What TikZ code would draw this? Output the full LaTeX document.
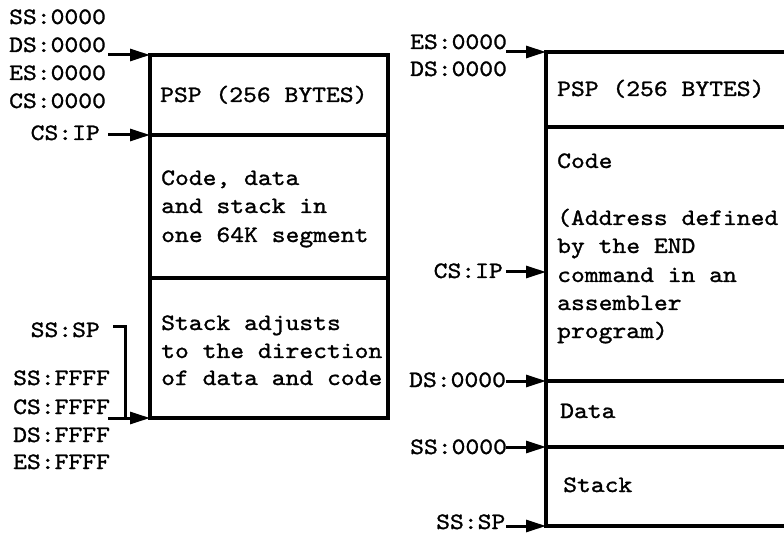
\documentclass[tikz,border=0pt]{standalone}
\usepackage{fontspec}
\setmonofont{lmmono10-regular.otf}[FakeStretch=1.12,FakeBold=1.2]
\usetikzlibrary{arrows.meta}
\tikzset{
  lbl/.style={inner sep=0pt, font=\ttfamily\fontsize{23.5}{28}\selectfont},
  lw/.style={lbl, anchor=base west},
  le/.style={lbl, anchor=base east},
  boxline/.style={line width=3.4pt},
  arr/.style={line width=3pt, -{Triangle[length=20pt,width=12pt]}},
  plain/.style={line width=3pt}
}
\begin{document}
\begin{tikzpicture}[x=1pt,y=-1pt]
\useasboundingbox (0,0) rectangle (784,534);
% ---------- left box ----------
\coordinate (LTL) at (150,55);
\coordinate (LTR) at (388,55);
\coordinate (LBL) at (150,418);
\coordinate (LBR) at (388,418);
\coordinate (L1L) at (150,135);
\coordinate (L1R) at (388,135);
\coordinate (L2L) at (150,278);
\coordinate (L2R) at (388,278);
\draw[boxline] (LTL) -- (LTR) -- (LBR) -- (LBL) -- cycle;
\draw[boxline] (L1L) -- (L1R);
\draw[boxline] (L2L) -- (L2R);
% left labels
\node[lw] (ss0) at (9,24) {SS:0000};
\node[lw] (ds0) at (9,52) {DS:0000};
\node[lw] (es0) at (9,80) {ES:0000};
\node[lw] (cs0) at (9,108) {CS:0000};
\node[le] (csip) at (100,140) {CS:IP};
\node[le] (sssp) at (100,337) {SS:SP};
\node[lw] (ssf) at (13,385) {SS:FFFF};
\node[lw] (csf) at (13,414) {CS:FFFF};
\node[lw] (dsf) at (13,442) {DS:FFFF};
\node[lw] (esf) at (13,469) {ES:FFFF};
% left box texts
\node[lw] (lpsp) at (160,102) {PSP (256 BYTES)};
\node[lw] (lc1) at (161,185) {Code, data};
\node[lw] (lc2) at (161,213) {and stack in};
\node[lw] (lc3) at (161,242) {one 64K segment};
\node[lw] (ls1) at (161,330) {Stack adjusts};
\node[lw] (ls2) at (161,358) {to the direction};
\node[lw] (ls3) at (161,385) {of data and code};
% left arrows
\coordinate (aDS) at (108,55);
\coordinate (aCS) at (108,135);
\coordinate (aCF) at (108,418);
\draw[arr] (aDS) -- (LTL);
\draw[arr] (aCS) -- (L1L);
\draw[arr] (aCF) -- (LBL);
\coordinate (bA) at (113,327);
\coordinate (bB) at (125,327);
\coordinate (bC) at (125,418);
\draw[plain] (bA) -- (bB) -- (bC);
% ---------- right box ----------
\coordinate (RTL) at (546,52);
\coordinate (RTR) at (790,52);
\coordinate (R1L) at (546,127);
\coordinate (R1R) at (790,127);
\coordinate (RIP) at (546,272);
\coordinate (R2L) at (546,381);
\coordinate (R2R) at (790,381);
\coordinate (R3L) at (546,447);
\coordinate (R3R) at (790,447);
\coordinate (RBL) at (546,526);
\coordinate (RBR) at (790,526);
\draw[boxline] (RTR) -- (RTL) -- (RBL) -- (RBR);
\draw[boxline] (R1L) -- (R1R);
\draw[boxline] (R2L) -- (R2R);
\draw[boxline] (R3L) -- (R3R);
% right labels
\node[lw] (res0) at (410,49) {ES:0000};
\node[lw] (rds0) at (410,76) {DS:0000};
\node[le] (rcsip) at (503,278) {CS:IP};
\node[lw] (rds1) at (409,387) {DS:0000};
\node[lw] (rss0) at (410,454) {SS:0000};
\node[lw] (rsssp) at (436,529) {SS:SP};
% right box texts
\node[lw] (rpsp) at (557,96) {PSP (256 BYTES)};
\node[lw] (rc0) at (557,168) {Code};
\node[lw] (rc1) at (557,225) {(Address defined};
\node[lw] (rc2) at (557,253) {by the END};
\node[lw] (rc3) at (557,282) {command in an};
\node[lw] (rc4) at (557,310) {assembler};
\node[lw] (rc5) at (557,338) {program)};
\node[lw] (rdata) at (560,418) {Data};
\node[lw] (rstack) at (563,492) {Stack};
% right arrows
\coordinate (rES) at (506,52);
\coordinate (rCS) at (506,272);
\coordinate (rDS) at (506,381);
\coordinate (rSS) at (506,447);
\coordinate (rSP) at (506,526);
\draw[arr] (rES) -- (RTL);
\draw[arr] (rCS) -- (RIP);
\draw[arr] (rDS) -- (R2L);
\draw[arr] (rSS) -- (R3L);
\draw[arr] (rSP) -- (RBL);
\end{tikzpicture}
\end{document}
